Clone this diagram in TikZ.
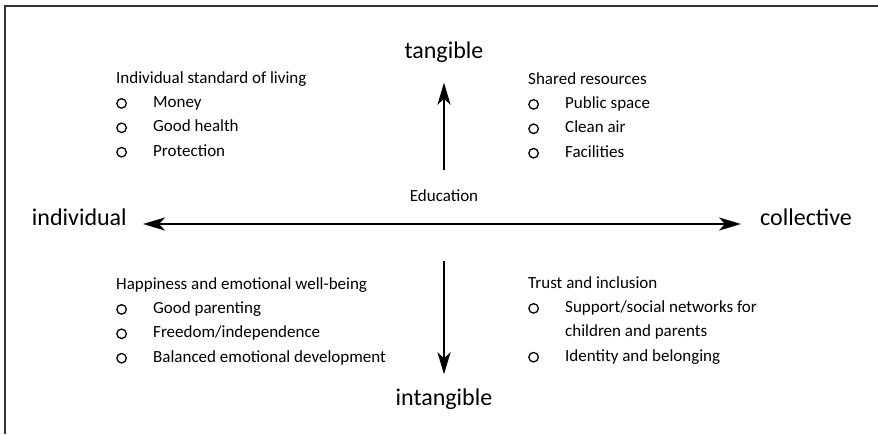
\documentclass[tikz,border=0pt]{standalone}
\usepackage{fontspec}
\setmainfont{Carlito}
\usetikzlibrary{positioning,arrows.meta}

\begin{document}
\begin{tikzpicture}[x=1pt, y=-1pt, node distance=0pt, >={Stealth[length=22pt, width=13pt, inset=6pt]}]
  \tikzstyle{pole} = [inner sep=0pt, text height=17pt, text depth=6pt, font=\fontsize{24}{28}\selectfont]
  \tikzstyle{caption} = [inner sep=0pt, text height=16pt, text depth=8pt, font=\fontsize{17}{20}\selectfont]
  \tikzstyle{head} = [caption, anchor=west]
  \tikzstyle{line} = [caption, anchor=north west]
  \tikzstyle{bullet} = [circle, draw, line width=1.3pt, minimum size=9.5pt, inner sep=0pt]
  \tikzstyle{entry} = [line, label={[bullet, label distance=26pt]left:}]
  \tikzstyle{axis} = [line width=2.5pt]

  \useasboundingbox (0,0) rectangle (878,434);
  \draw [black!80, line width=1.4pt] (5,434) -- (5,6) -- (878,6);

  % the two axes
  \coordinate (cross) at (444,224);
  \node (tangible) [pole] at (444,53) {tangible};
  \node (intangible) [pole] at (444,400) {intangible};
  \node (individual) [pole, anchor=east] at (127,220) {individual};
  \node (collective) [pole, anchor=west] at (760,220) {collective};
  \node (education) [caption] at (444,197) {Education};

  \draw [axis,->] (education) -- (tangible) [shorten <=15pt, shorten >=18pt];
  \draw [axis,->] (cross) -- (intangible) [shorten <=37pt, shorten >=14pt];
  \draw [axis,<->] (individual.east |- cross) -- (collective.west |- cross) [shorten <=16pt, shorten >=19pt];

  % top left
  \node (living) [head] at (116,79) {Individual standard of living};
  \node (money) [below=0pt of living.south west, entry, xshift=37pt] {Money};
  \node (health) [below=0pt of money.south west, entry] {Good health};
  \node (protection) [below=0pt of health.south west, entry] {Protection};

  % top right
  \node (shared) [head] at (528,80) {Shared resources};
  \node (space) [below=0pt of shared.south west, entry, xshift=37pt] {Public space};
  \node (air) [below=0pt of space.south west, entry] {Clean air};
  \node (facilities) [below=0pt of air.south west, entry] {Facilities};

  % bottom left
  \node (happiness) [head] at (116,285) {Happiness and emotional well-being};
  \node (parenting) [below=0pt of happiness.south west, entry, xshift=37pt] {Good parenting};
  \node (freedom) [below=0pt of parenting.south west, entry] {Freedom/independence};
  \node (balanced) [below=0pt of freedom.south west, entry] {Balanced emotional development};

  % bottom right
  \node (trust) [head] at (528,284) {Trust and inclusion};
  \node (support) [below=0pt of trust.south west, entry, xshift=37pt] {Support/social networks for};
  \node (children) [below=0pt of support.south west, line] {children and parents};
  \node (identity) [below=0pt of children.south west, entry] {Identity and belonging};
\end{tikzpicture}
\end{document}
